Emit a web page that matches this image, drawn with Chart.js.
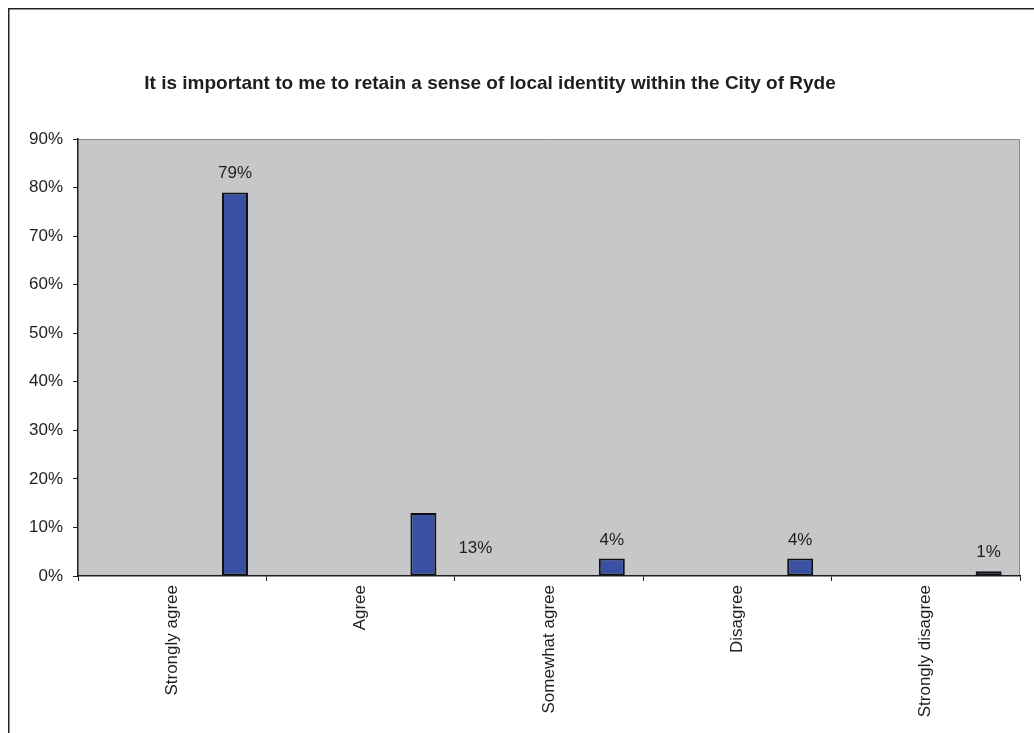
<!DOCTYPE html>
<html>
<head>
<meta charset="utf-8">
<script src="https://cdn.jsdelivr.net/npm/chart.js@4/dist/chart.umd.min.js"></script>
<style>
  html, body { margin: 0; padding: 0; background: #fff; overflow: hidden; }
  #wrap { position: relative; width: 1034px; height: 733px; }
</style>
</head>
<body>
<div id="wrap"><canvas id="identityChart"></canvas></div>
<script>
var chartTitle = 'It is important to me to retain a sense of local identity within the City of Ryde';
var categories = ['Strongly agree', 'Agree', 'Somewhat agree', 'Disagree', 'Strongly disagree'];
var percentValues = [79, 13, 3.6, 3.6, 1];
var yTickValues = [0, 10, 20, 30, 40, 50, 60, 70, 80, 90];

// nudges for the value labels (the "Agree" label sits off to the right)
var labelNudge = [[0, 0], [52, 54], [0, 0], [0, 0], [0, 0]];

var FONT = "'Liberation Sans', Arial, sans-serif";
var INK = '#1e1e1e';

// grey plot area plus the outer chart frame
var plotBackground = {
    id: 'plotBackground',
    beforeDraw: function(chart) {
        var ctx = chart.ctx, a = chart.chartArea;
        ctx.save();
        ctx.fillStyle = '#c6c7c9';
        ctx.fillRect(a.left, a.top, a.right - a.left, a.bottom - a.top);
        ctx.strokeStyle = '#8a8a8a';
        ctx.lineWidth = 1;
        ctx.beginPath();
        ctx.moveTo(a.left, a.top + 0.5);
        ctx.lineTo(a.right - 0.5, a.top + 0.5);
        ctx.lineTo(a.right - 0.5, a.bottom);
        ctx.stroke();
        ctx.strokeStyle = '#222';
        ctx.lineWidth = 1.5;
        ctx.strokeRect(8.75, 8.75, 2000, 2000);
        ctx.restore();
    }
};

var headingText = {
    id: 'headingText',
    afterDraw: function(chart) {
        var ctx = chart.ctx;
        ctx.save();
        ctx.font = 'bold 19px ' + FONT;
        ctx.fillStyle = INK;
        ctx.textAlign = 'center';
        ctx.textBaseline = 'alphabetic';
        ctx.fillText(chartTitle, 490, 89);
        ctx.restore();
    }
};

var valueLabels = {
    id: 'valueLabels',
    afterDatasetsDraw: function(chart) {
        var ctx = chart.ctx;
        var meta = chart.getDatasetMeta(2);
        ctx.save();
        ctx.font = '17px ' + FONT;
        ctx.fillStyle = INK;
        ctx.textAlign = 'center';
        ctx.textBaseline = 'alphabetic';
        meta.data.forEach(function(bar, i) {
            var txt = Math.round(percentValues[i]) + '%';
            ctx.fillText(txt, bar.x + labelNudge[i][0], bar.y - 14 + labelNudge[i][1]);
        });
        ctx.restore();
    }
};

new Chart(document.getElementById('identityChart'), {
    type: 'bar',
    data: {
        labels: categories,
        datasets: [
            { label: '', data: [] },
            { label: '', data: [] },
            {
                label: 'Responses',
                data: percentValues,
                backgroundColor: '#3a50a2',
                borderColor: '#111',
                borderWidth: 2,
                borderSkipped: false
            }
        ]
    },
    options: {
        responsive: true,
        maintainAspectRatio: false,
        animation: false,
        categoryPercentage: 1,
        barPercentage: 0.414,
        layout: { padding: { left: 0, top: 139, right: 14, bottom: 0 } },
        plugins: {
            legend: { display: false },
            title: { display: false },
            tooltip: { enabled: false }
        },
        scales: {
            x: {
                grid: { display: true, offset: true, drawOnChartArea: false, drawTicks: true, tickLength: 5, color: INK },
                border: { display: true, color: INK, width: 1.5 },
                ticks: {
                    autoSkip: false, minRotation: 90, maxRotation: 90, padding: 4,
                    color: INK, font: { family: FONT, size: 17 }
                },
                afterFit: function(scale) { scale.height = 157; }
            },
            y: {
                min: 0, max: 90,
                afterBuildTicks: function(scale) {
                    scale.ticks = yTickValues.map(function(v) { return { value: v }; });
                },
                grid: { display: true, drawOnChartArea: false, drawTicks: true, tickLength: 5, color: INK },
                border: { display: true, color: INK, width: 1.5 },
                ticks: {
                    padding: 10, color: INK, font: { family: FONT, size: 17 },
                    callback: function(v) { return v + '%'; }
                },
                afterFit: function(scale) { scale.width = 78; }
            }
        }
    },
    plugins: [plotBackground, headingText, valueLabels]
});
</script>
</body>
</html>
